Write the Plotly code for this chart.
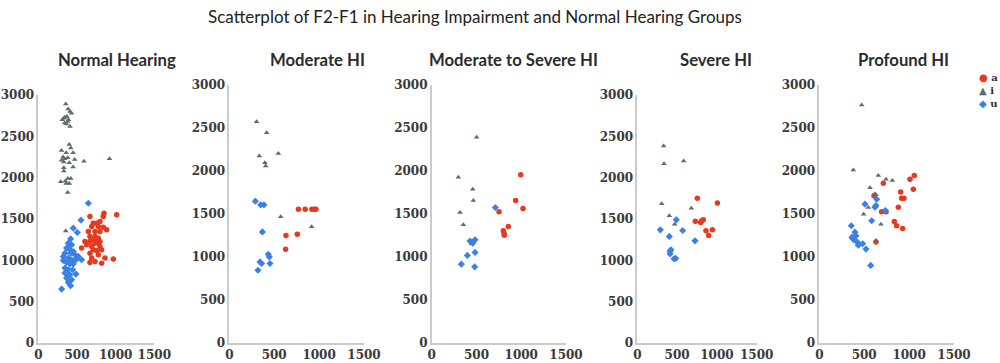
import plotly.graph_objects as go

# ---------------- data (F1 on x, F2-F1 on y) ----------------
groups = ["Normal Hearing", "Moderate HI", "Moderate to Severe HI", "Severe HI", "Profound HI"]
vowels = ["a", "i", "u"]

# Normal Hearing
nh_a_x = [1013, 849, 840, 668, 797, 754, 711, 690, 776, 840, 647, 733, 797, 883, 668, 733, 776, 711, 754, 797,
          668, 733, 776, 625, 560, 690, 797, 711, 754, 819, 668, 776, 862, 970, 690, 819, 733, 668, 603]
nh_a_y = [1550, 1571, 1530, 1530, 1470, 1450, 1450, 1409, 1409, 1401, 1349, 1349, 1349, 1369, 1289, 1289, 1268, 1248, 1248, 1228,
          1228, 1208, 1208, 1188, 1148, 1168, 1168, 1128, 1120, 1128, 1087, 1067, 1027, 1015, 1027, 966, 987, 975, 1228]
nh_i_x = [355, 385, 410, 430, 330, 345, 370, 390, 310, 340, 365, 410, 380,
          400, 420, 300, 360, 450, 320, 340, 380, 470, 300, 330, 400, 330, 450, 330, 590, 920,
          380, 420, 290, 350, 360, 400, 380, 355]
nh_i_y = [2890, 2830, 2800, 2780, 2720, 2730, 2740, 2700, 2700, 2660, 2650, 2620, 2680,
          2400, 2360, 2330, 2300, 2300, 2250, 2230, 2240, 2220, 2210, 2190, 2180, 2120, 2130, 2080, 2200, 2230,
          1990, 1990, 1950, 1960, 1930, 1930, 1820, 1355]
nh_u_x = [647, 552, 453, 504, 418, 388, 431, 366, 401, 453, 345, 418, 474, 517, 323, 388, 431, 474, 560, 323,
          366, 409, 453, 496, 345, 388, 444, 345, 409, 487, 366, 431, 388, 418, 302]
nh_u_y = [1691, 1486, 1389, 1337, 1260, 1208, 1188, 1148, 1136, 1107, 1087, 1087, 1067, 1047, 1047, 1027, 1007, 1007, 1007, 999,
          975, 958, 958, 1015, 906, 886, 886, 846, 826, 834, 785, 765, 733, 693, 652]

# Moderate HI
mo_a_x = [770, 845, 920, 945, 965, 631, 757, 627]
mo_a_y = [1556, 1556, 1556, 1556, 1556, 1250, 1265, 1091]
mo_i_x = [304, 416, 334, 546, 397, 405, 572, 917]
mo_i_y = [2573, 2445, 2173, 2204, 2096, 2057, 1467, 1351]
mo_u_x = [290, 349, 386, 368, 434, 446, 342, 360, 453, 319]
mo_u_y = [1649, 1607, 1607, 1292, 1032, 1001, 943, 924, 924, 846]

# Moderate to Severe HI
ms_a_x = [752, 994, 938, 1020, 856, 800, 808, 811]
ms_a_y = [1525, 1955, 1657, 1564, 1355, 1305, 1277, 1254]
ms_i_x = [502, 298, 458, 465, 316, 354, 447]
ms_i_y = [2392, 1928, 1788, 1657, 1517, 1374, 1154]
ms_u_x = [711, 428, 484, 458, 398, 484, 331, 480]
ms_u_y = [1576, 1185, 1200, 1161, 1018, 1053, 917, 886]

# Severe HI
se_a_x = [754, 1006, 729, 796, 829, 808, 863, 943, 897]
se_a_y = [1752, 1695, 1474, 1458, 1490, 1478, 1357, 1369, 1301]
se_i_x = [331, 335, 582, 306, 679, 402, 469]
se_i_y = [2384, 2167, 2203, 1683, 1631, 1538, 1438]
se_u_x = [289, 402, 490, 570, 725, 423, 411, 461, 482, 411]
se_u_y = [1369, 1289, 1490, 1361, 1236, 1128, 1079, 1019, 1023, 1111]

# Profound HI
pr_a_x = [1058, 1010, 1047, 713, 609, 906, 917, 943, 880, 694, 743, 835, 861, 928, 631]
pr_a_y = [1947, 1905, 1788, 1858, 1711, 1757, 1684, 1684, 1579, 1525, 1525, 1413, 1363, 1332, 1173]
pr_i_x = [472, 379, 657, 743, 813, 564, 620, 546, 494, 687, 631, 631]
pr_i_y = [2768, 2013, 1947, 1905, 1889, 1804, 1734, 1575, 1498, 1382, 1192, 1723]
pr_u_x = [356, 509, 639, 631, 620, 735, 583, 397, 408, 371, 386, 423, 434, 483, 520, 572, 364]
pr_u_y = [1363, 1614, 1672, 1599, 1579, 1541, 1421, 1289, 1246, 1215, 1200, 1173, 1138, 1154, 1092, 902, 1231]

x_ticks = [0, 500, 1000, 1500]
y_ticks = [0, 500, 1000, 1500, 2000, 2500, 3000]

panels = [
    (nh_a_x, nh_a_y, nh_i_x, nh_i_y, nh_u_x, nh_u_y),
    (mo_a_x, mo_a_y, mo_i_x, mo_i_y, mo_u_x, mo_u_y),
    (ms_a_x, ms_a_y, ms_i_x, ms_i_y, ms_u_x, ms_u_y),
    (se_a_x, se_a_y, se_i_x, se_i_y, se_u_x, se_u_y),
    (pr_a_x, pr_a_y, pr_i_x, pr_i_y, pr_u_x, pr_u_y),
]

# ---------------- styling ----------------
W, H = 1000, 363  # reference frame used to place things (as fractions)
RED, GREY, BLUE = "#e8391d", "#5e6d69", "#3b80e2"
styles = {
    "a": dict(color=RED, symbol="circle", size=5.5),
    "i": dict(color=GREY, symbol="triangle-up", size=5),
    "u": dict(color=BLUE, symbol="diamond", size=5.5),
}
# pixel boxes of the five plot areas: (left, right, top, bottom)
boxes = [(38.3, 154.3, 95, 343), (229.3, 364, 85, 343), (431.7, 566, 85, 343),
         (637.3, 756.7, 95, 343), (819.3, 954, 85, 343)]
title_cx = [117, 317, 513, 716, 903]

fig = go.Figure()
tick_font = dict(family="DejaVu Serif", size=12, color="#3a3a3a", weight="bold")

for k, (ax_, ay_, ix_, iy_, ux_, uy_) in enumerate(panels):
    sfx = "" if k == 0 else str(k + 1)
    for v, xs, ys in (("a", ax_, ay_), ("i", ix_, iy_), ("u", ux_, uy_)):
        st = styles[v]
        fig.add_trace(go.Scatter(
            x=xs, y=ys, mode="markers", name=v, showlegend=False,
            xaxis="x" + sfx, yaxis="y" + sfx,
            marker=dict(color=st["color"], symbol=st["symbol"], size=st["size"], line=dict(width=0)),
        ))
    l, r, t, b = boxes[k]
    common = dict(showgrid=False, zeroline=False, showline=True, linecolor="#c9cccb", linewidth=1.5,
                  ticks="", tickfont=tick_font, fixedrange=True, automargin=False)
    fig.layout["xaxis" + sfx] = dict(domain=[l / W, r / W], range=[0, 1500], tickvals=x_ticks,
                                     tickangle=0, anchor="y" + sfx, **common)
    fig.layout["yaxis" + sfx] = dict(domain=[1 - b / H, 1 - t / H], range=[0, 3000], tickvals=y_ticks,
                                     anchor="x" + sfx, **common)
    fig.add_annotation(text=groups[k], x=title_cx[k] / W, y=1 - 60 / H, xref="paper", yref="paper",
                       showarrow=False, xanchor="center", yanchor="middle",
                       font=dict(family="Lato", size=16.7, color="#2b2b2b", weight="bold"))

# main title
fig.add_annotation(text="Scatterplot of F2-F1 in Hearing Impairment and Normal Hearing Groups",
                   x=475 / W, y=1 - 16 / H, xref="paper", yref="paper", showarrow=False,
                   xanchor="center", yanchor="middle",
                   font=dict(family="Lato", size=17, color="#222222"))

# legend (one multi-line text block: symbol + label per vowel)
leg_sym = {"a": "●", "i": "▲", "u": "◆"}
leg_text = "<br>".join(
    '<span style="color:%s">%s</span> %s' % (styles[v]["color"], leg_sym[v], v) for v in vowels)
fig.add_annotation(text=leg_text, x=978 / W, y=1 - 90 / H, xref="paper", yref="paper",
                   showarrow=False, xanchor="left", yanchor="middle", align="left", borderpad=0,
                   font=dict(family="DejaVu Serif", size=10, color="#2b2b2b", weight="bold"))

fig.update_layout(autosize=True, margin=dict(l=0, r=0, t=0, b=0),
                  paper_bgcolor="white", plot_bgcolor="white", showlegend=False)

post = (
    "var gd=document.getElementById('{plot_id}');"
    "var h=document.documentElement,b=document.body;"
    "h.style.margin='0';h.style.height='100%';h.style.overflow='hidden';"
    "b.style.margin='0';b.style.height='100%';b.style.overflow='hidden';"
    "gd.style.width='100vw';gd.style.height='100vh';"
    "Plotly.Plots.resize(gd);"
)
fig.write_html("out.html", default_width="100%", default_height="100%",
               config=dict(displayModeBar=False, responsive=True), post_script=post)
